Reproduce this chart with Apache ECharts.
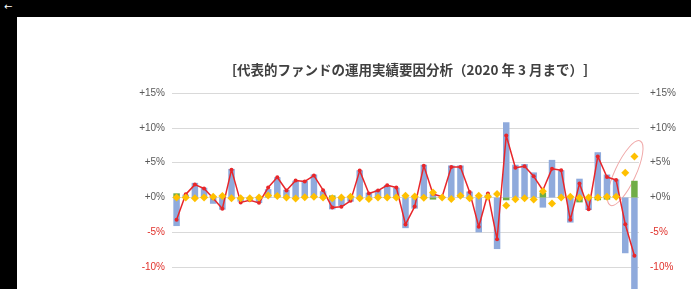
<!DOCTYPE html>
<html><head><meta charset="utf-8">
<script src="https://cdn.jsdelivr.net/npm/echarts@6/dist/echarts.min.js"></script>
<style>
html,body{margin:0;padding:0;background:#000;overflow:hidden;}
#bg{position:absolute;left:17px;top:17px;width:674px;height:272px;background:#fff;}
#arrow{position:absolute;left:4px;top:1px;color:#fff;font-size:10px;font-family:'DejaVu Sans';}
#chart{position:absolute;left:0;top:0;width:691px;height:289px;}
</style></head><body>
<div id="bg"></div><div id="arrow">←</div><div id="chart"></div>
<script>
const categories = ['2016/1','2016/2','2016/3','2016/4','2016/5','2016/6','2016/7','2016/8','2016/9','2016/10','2016/11','2016/12',
  '2017/1','2017/2','2017/3','2017/4','2017/5','2017/6','2017/7','2017/8','2017/9','2017/10','2017/11','2017/12',
  '2018/1','2018/2','2018/3','2018/4','2018/5','2018/6','2018/7','2018/8','2018/9','2018/10','2018/11','2018/12',
  '2019/1','2019/2','2019/3','2019/4','2019/5','2019/6','2019/7','2019/8','2019/9','2019/10','2019/11','2019/12',
  '2020/1','2020/2','2020/3'];
const blueBars = [-4.1,0.4,2.1,1.4,-0.9,-1.75,4.1,-0.6,-0.4,-0.8,
  1.2,2.9,1.1,2.4,2.4,3.3,0.9,-1.7,-1.2,-0.6,
  3.9,0.7,1.1,1.8,1.4,-4.4,-1.6,4.7,0.6,0.1,
  4.6,4.6,0.85,-5.0,0.4,-7.4,10.8,4.7,4.8,3.6,
  -1.45,5.4,3.9,-3.6,2.7,-1.8,6.5,3.3,2.6,-8.0,-16.5];
const greenBars = [0.6,0,0,0,0,0,0,0,0,0,
  0,0,0,0,0,0,0,0.3,0,0,
  0,0,0,0,0,0,0,0,-0.3,0,
  0,0,0,0,0,0,-0.4,0,0,0,
  0.7,0,0,0,-0.7,0,-0.4,-0.3,0,0,2.4];
const yellowPts = [0,0,-0.1,0,0.1,0.2,-0.1,-0.1,-0.1,0,
  0.3,0.2,0,-0.15,0.05,0.1,0,-0.1,0,0.1,
  -0.1,-0.2,0,0,0,0.25,0.15,-0.05,0.7,0,
  -0.2,0.25,-0.1,0.25,0.1,0.5,-1.15,-0.24,-0.1,-0.3,
  0.9,-0.86,0,0.1,-0.05,0,0,0.1,0.1,3.57,5.9];
const totalLine = [-3.2,0.45,1.85,1.3,-0.1,-1.6,4.0,-0.7,-0.4,-0.77,
  1.43,2.9,1.0,2.45,2.3,3.15,1.05,-1.45,-1.33,-0.48,
  3.86,0.57,1.0,1.76,1.43,-3.86,-1.3,4.55,0.5,0.1,
  4.38,4.38,0.8,-4.19,0.57,-6.0,8.9,4.28,4.5,3.04,
  1.04,4.14,3.9,-3.2,2.0,-1.7,5.9,2.95,2.5,-3.84,-8.35];
const yTicks = [-15,-10,-5,0,5,10,15];
const titleText = '[代表的ファンドの運用実績要因分析（2020 年 3 月まで）]';

const fmt = v => v > 0 ? '+' + v + '%' : (v === 0 ? '+0%' : v + '%');
const labColor = v => v < 0 ? '#E0312B' : '#595959';
const chart = echarts.init(document.getElementById('chart'));
const yAxisBase = {
  type: 'value', min: yTicks[0], max: yTicks[yTicks.length-1], interval: 5,
  axisLine: {show:false}, axisTick: {show:false},
  axisLabel: {formatter: fmt, color: labColor, fontSize: 10, fontFamily: 'Liberation Sans'}
};
chart.setOption({
  animation: false,
  title: {text: titleText, left: 232, top: 63, padding: 0,
    textStyle: {fontSize: 13.5, fontWeight: 'bold', color: '#404040', fontFamily: 'Noto Sans CJK JP'}},
  grid: {left: 172, right: 52, top: 93, height: 209, containLabel: false, outerBoundsMode: 'none'},
  xAxis: {type: 'category', data: categories, boundaryGap: true,
    axisLine: {show:false}, axisTick: {show:false}, axisLabel: {show:false}, splitLine: {show:false}},
  yAxis: [
    Object.assign({}, yAxisBase, {position: 'left', axisLabel: Object.assign({}, yAxisBase.axisLabel, {margin: 7}),
      splitLine: {show: true, lineStyle: {color: '#D9D9D9', width: 1}}}),
    Object.assign({}, yAxisBase, {position: 'right', axisLabel: Object.assign({}, yAxisBase.axisLabel, {margin: 11}),
      splitLine: {show: false}})
  ],
  series: [
    {type: 'bar', data: blueBars, stack: 'f', barWidth: 6.5, itemStyle: {color: '#8FAADC'}},
    {type: 'bar', data: greenBars, stack: 'f', barWidth: 6.5, itemStyle: {color: '#70AD47'}},
    {type: 'line', data: totalLine, symbol: 'circle', symbolSize: 4, showAllSymbol: true,
      lineStyle: {color: '#E8262A', width: 1.5}, itemStyle: {color: '#E8262A'}, z: 3},
    {type: 'line', data: yellowPts, symbol: 'diamond', symbolSize: [8, 8], showAllSymbol: true,
      lineStyle: {width: 0, opacity: 0}, itemStyle: {color: '#FFC000'}, z: 4}
  ]
});
const c = chart.convertToPixel({xAxisIndex: 0, yAxisIndex: 0}, [49, 3.5]);
chart.setOption({graphic: [{type: 'ellipse', x: c[0], y: c[1], rotation: -0.435, silent: true, z: 1,
  shape: {cx: 0, cy: 0, rx: 10.5, ry: 35.5}, style: {fill: 'none', stroke: '#F0A8A8', lineWidth: 1}}]});
</script>
</body></html>
